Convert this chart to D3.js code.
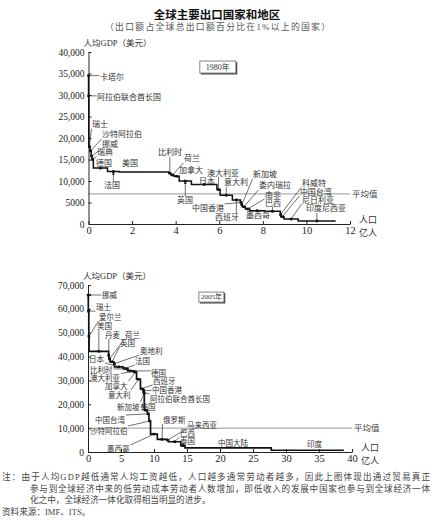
<!DOCTYPE html>
<html><head><meta charset="utf-8">
<script src="https://cdn.jsdelivr.net/npm/d3@7"></script>
<style>body{margin:0;background:#fff}svg{display:block}</style>
</head><body><svg id="c" width="434" height="520"></svg>
<script>
// ---------- data: 1980 ----------
const countries1980 = ["卡塔尔","阿拉伯联合酋长国","瑞士","沙特阿拉伯","挪威","瑞典","德国","法国","美国","比利时","荷兰","加拿大","英国","日本","澳大利亚","意大利","西班牙","中国香港","新加坡","委内瑞拉","南非","墨西哥","巴西","科威特","中国台湾","尼日利亚","印度尼西亚"];
const population1980 = [0.002,0.01,0.06,0.05,0.04,0.06,0.65,0.54,2.27,0.1,0.14,0.24,0.56,1.17,0.15,0.56,0.37,0.05,0.03,0.15,0.2,0.68,0.72,0.02,0.15,0.65,1.72];
const gdp1980 = [34500,29800,18000,17000,15800,15000,13000,12200,12100,11800,11400,11100,10000,9200,8000,6700,5600,5000,4500,4000,3500,3100,2950,2200,1700,1150,700];
const average1980 = 7000;
const yTicks1980 = [0,5000,10000,15000,20000,25000,30000,35000,40000];
const yTickLabels1980 = ["0","5000","10,000","15,000","20,000","25,000","30,000","35,000","40,000"];
const xTicks1980 = [0,2,4,6,8,10,12];

// ---------- data: 2005 ----------
const countries2005 = ["挪威","瑞士","爱尔兰","美国","丹麦","荷兰","英国","奥地利","日本","法国","比利时","德国","澳大利亚","加拿大","意大利","西班牙","中国香港","阿拉伯联合酋长国","新加坡","韩国","中国台湾","沙特阿拉伯","墨西哥","俄罗斯","马来西亚","巴西","泰国","中国大陆","印度"];
const population2005 = [0.046,0.075,0.041,2.96,0.054,0.163,0.6,0.082,1.28,0.61,0.104,0.82,0.2,0.32,0.59,0.43,0.07,0.04,0.043,0.48,0.23,0.24,1.03,1.43,0.26,1.86,0.64,13.07,11.0];
const gdp2005 = [65800,59000,48500,42200,40500,39000,37800,37000,35700,35000,34800,34000,33800,33500,30500,26500,25800,25000,24500,17500,16000,13000,7500,5300,5000,4300,2700,1700,730];
const average2005 = 10000;
const yTicks2005 = [0,10000,20000,30000,40000,50000,60000,70000];
const yTickLabels2005 = ["0","10,000","20,000","30,000","40,000","50,000","60,000","70,000"];
const xTicks2005 = [0,5,10,15,20,25,30,35,40];

// ---------- annotation layout (label positions in data units) ----------
const labels1980 = [
  ["卡塔尔",0.53,34000,"line"],["阿拉伯联合酋长国",0.39,29370,"line"],["瑞士",0.16,23080,"line"],
  ["沙特阿拉伯",0.62,20700,"line"],["挪威",0.62,18400,"line"],["瑞典",0.39,16550,"line"],
  ["德国",0.34,13990,"line"],["美国",1.54,13990,"none"],["法国",0.71,8860,"arrow"],
  ["比利时",3.19,16550,"line"],["荷兰",4.38,15120,"line"],["加拿大",4.15,12330,"line"],
  ["日本",5.07,9770,"line"],["澳大利亚",5.44,11860,"line"],["意大利",6.22,9550,"line"],
  ["英国",4.06,5350,"arrow"],["中国香港",4.75,3490,"line"],["西班牙",5.8,1400,"line"],
  ["新加坡",7.55,11400,"line"],["委内瑞拉",7.82,8840,"line"],["南非",8.1,6740,"line"],
  ["巴西",8.1,4880,"line"],["墨西哥",7.23,1900,"line"],["科威特",9.8,9530,"line"],
  ["中国台湾",9.7,7440,"line"],["尼日利亚",9.8,5580,"line"],["印度尼西亚",9.98,3490,"line"]
];
const labels2005 = [
  ["挪威",2.12,65800,"arrow"],["瑞士",1.21,60750,"line"],["爱尔兰",1.67,56570,"line"],
  ["美国",1.36,52800,"line"],["丹麦",2.58,49020,"line"],["荷兰",5.6,49020,"line"],
  ["英国",4.85,45670,"line"],["奥地利",7.88,42320,"line"],["日本",0.15,38970,"line"],
  ["法国",7.12,38130,"line"],["比利时",0.3,34360,"line"],["德国",9.55,33100,"line"],
  ["澳大利亚",0.3,30800,"line"],["西班牙",9.85,29750,"line"],["加拿大",2.58,27650,"line"],
  ["中国香港",9.7,25980,"line"],["意大利",3.03,23880,"line"],["阿拉伯联合酋长国",9.39,22210,"line"],
  ["新加坡",4.39,18860,"line"],["韩国",7.95,18860,"line"],["中国台湾",1.06,13410,"line"],
  ["俄罗斯",11.36,13410,"line"],["马来西亚",15.0,11310,"line"],["沙特阿拉伯",0.3,8800,"line"],
  ["巴西",13.94,7960,"line"],["泰国",13.94,4610,"line"],["墨西哥",2.88,1257,"line"],
  ["中国大陆",19.7,3770,"none"],["印度",33.2,3350,"none"]
];

const FONT = "'Liberation Serif','Noto Sans CJK SC',serif";
const CJK = "'Noto Sans CJK SC','Liberation Serif',sans-serif";
const svg = d3.select("#c");

svg.append("defs").append("marker").attr("id","arr").attr("viewBox","0 0 10 10")
  .attr("refX",9).attr("refY",5).attr("markerWidth",5).attr("markerHeight",5).attr("orient","auto")
  .append("path").attr("d","M0,1L10,5L0,9Z").attr("fill","#222");

// titles
svg.append("text").attr("x",217).attr("y",14).attr("text-anchor","middle").attr("dominant-baseline","central")
  .style("font-family",CJK).style("font-size","11.5px").style("font-weight","bold").attr("fill","#111")
  .text("全球主要出口国家和地区");
svg.append("text").attr("x",105).attr("y",27).attr("dominant-baseline","central")
  .attr("textLength",225).attr("lengthAdjust","spacing")
  .style("font-family",FONT).style("font-size","8.8px").attr("fill","#555")
  .text("（出口额占全球总出口额百分比在1%以上的国家）");

function panel(cfg){
  const x = d3.scaleLinear().domain(cfg.xDomain).range(cfg.xRange);
  const y = d3.scaleLinear().domain(cfg.yDomain).range(cfg.yRange);
  const g = svg.append("g");
  let cum = 0;
  const segs = cfg.countries.map((c,i)=>{const s={name:c,x0:cum,x1:cum+cfg.pop[i],v:cfg.gdp[i]};cum+=cfg.pop[i];return s;});

  // average line
  g.append("line").attr("x1",x(0)).attr("x2",x(cfg.xDomain[1])).attr("y1",y(cfg.avg)).attr("y2",y(cfg.avg))
    .attr("stroke","#999").attr("stroke-width",1);
  g.append("text").attr("x",x(cfg.xDomain[1])+2).attr("y",y(cfg.avg)).attr("dominant-baseline","central")
    .style("font-family",FONT).style("font-size","8.5px").attr("fill","#444").text("平均值");

  // axes
  const ya = g.append("g").attr("transform",`translate(${x(0)},0)`)
    .call(d3.axisLeft(y).tickValues(cfg.yTicks).tickFormat((d,i)=>cfg.yTickLabels[i]).tickSizeInner(-3).tickSizeOuter(0).tickPadding(4));
  const xa = g.append("g").attr("transform",`translate(0,${y(0)})`)
    .call(d3.axisBottom(x).tickValues(cfg.xTicks).tickFormat(d3.format("d")).tickSizeInner(-3).tickSizeOuter(0).tickPadding(3));
  [ya,xa].forEach(a=>{a.selectAll("path,line").attr("stroke","#222").attr("stroke-width",1);
    a.selectAll("text").style("font-family",FONT).attr("fill","#222");});
  ya.selectAll("text").style("font-size","9.5px");
  xa.selectAll("text").style("font-size","10.5px");

  // axis titles
  g.append("text").attr("x",x(0)-5).attr("y",y(cfg.yDomain[1])-9).attr("dominant-baseline","central")
    .style("font-family",FONT).style("font-size","8.5px").attr("fill","#333").text("人均GDP（美元）");
  g.append("text").attr("x",x(cfg.xDomain[1])+9).attr("y",y(0)-4).attr("dominant-baseline","central")
    .style("font-family",FONT).style("font-size","9px").attr("fill","#333").text("人口");
  g.append("text").attr("x",x(cfg.xDomain[1])+9).attr("y",y(0)+9).attr("dominant-baseline","central")
    .style("font-family",FONT).style("font-size","9px").attr("fill","#333").text("亿人");

  // year box
  const bx = x(cfg.yearPos[0]), by = y(cfg.yearPos[1]);
  g.append("rect").attr("x",bx).attr("y",by).attr("width",cfg.yearW).attr("height",cfg.yearH)
    .attr("fill","#fff").attr("stroke","#666").attr("stroke-width",0.8);
  g.append("path").attr("d",`M${bx+1},${by+cfg.yearH+0.8}H${bx+cfg.yearW+0.8}V${by+1}`)
    .attr("fill","none").attr("stroke","#444").attr("stroke-width",1.2);
  g.append("text").attr("x",bx+cfg.yearW/2).attr("y",by+cfg.yearH/2).attr("text-anchor","middle")
    .attr("dominant-baseline","central").style("font-family",FONT).style("font-size",cfg.yearFs+"px").attr("fill","#333").text(cfg.year);

  // step line
  const pts = [];
  segs.forEach(s=>{pts.push([s.x0,s.v]);pts.push([s.x1,s.v]);});
  g.append("path").attr("d",d3.line().x(d=>x(d[0])).y(d=>y(d[1]))(pts))
    .attr("fill","none").attr("stroke","#111").attr("stroke-width",cfg.lw);

  // labels + leaders
  const byName = new Map(segs.map(s=>[s.name,s]));
  cfg.labels.forEach(([name,lx,ly,kind])=>{
    const s = byName.get(name);
    const t = g.append("text").attr("x",x(lx)).attr("y",y(ly)).attr("dominant-baseline","central")
      .style("font-family",FONT).style("font-size",cfg.fs+"px").attr("fill","#333").text(name);
    if(kind==="none") return;
    const ax = x((s.x0+s.x1)/2), ay = y(s.v);
    const b = t.node().getBBox();
    const px = Math.max(b.x-0.5, Math.min(ax, b.x+b.width+0.5));
    const py = Math.max(b.y+0.5, Math.min(ay, b.y+b.height-0.5));
    if(Math.hypot(ax-px,ay-py) > 2){
      const l = g.append("line").attr("x1",px).attr("y1",py).attr("x2",ax).attr("y2",ay)
        .attr("stroke","#333").attr("stroke-width",0.7);
      if(kind==="arrow") l.attr("marker-end","url(#arr)");
    }
    g.append("rect").attr("x",ax-1.3).attr("y",ay-1.3).attr("width",2.6).attr("height",2.6).attr("fill","#111");
  });
}

panel({countries:countries1980,pop:population1980,gdp:gdp1980,avg:average1980,
  yTicks:yTicks1980,yTickLabels:yTickLabels1980,xTicks:xTicks1980,
  xDomain:[0,12],xRange:[88.5,350],yDomain:[0,40000],yRange:[224,52],
  labels:labels1980,fs:8,lw:1.5,year:"1980年",yearPos:[5.11,37900],yearW:36,yearH:12,yearFs:8});

panel({countries:countries2005,pop:population2005,gdp:gdp2005,avg:average2005,
  yTicks:yTicks2005,yTickLabels:yTickLabels2005,xTicks:xTicks2005,
  xDomain:[0,40],xRange:[88,352],yDomain:[0,70000],yRange:[452,285],
  labels:labels2005,fs:7.5,lw:1.7,year:"2005年",yearPos:[16.8,67040],yearW:25,yearH:10,yearFs:7});

// footnote
const notes = [
  [2,477,428,"注：由于人均GDP越低通常人均工资越低，人口越多通常劳动者越多，因此上图体现出通过贸易真正"],
  [30,489,400,"参与到全球经济中来的低劳动成本劳动者人数增加，即低收入的发展中国家也参与到全球经济一体"],
  [30,500,0,"化之中，全球经济一体化取得相当明显的进步。"],
  [2,512,0,"资料来源：IMF、ITS。"]
];
notes.forEach(([nx,ny,len,txt])=>{
  const t = svg.append("text").attr("x",nx).attr("y",ny).attr("dominant-baseline","central")
    .style("font-family",FONT).style("font-size","8.6px").attr("fill","#444").text(txt);
  if(len) t.attr("textLength",len).attr("lengthAdjust","spacing");
});
</script></body></html>
